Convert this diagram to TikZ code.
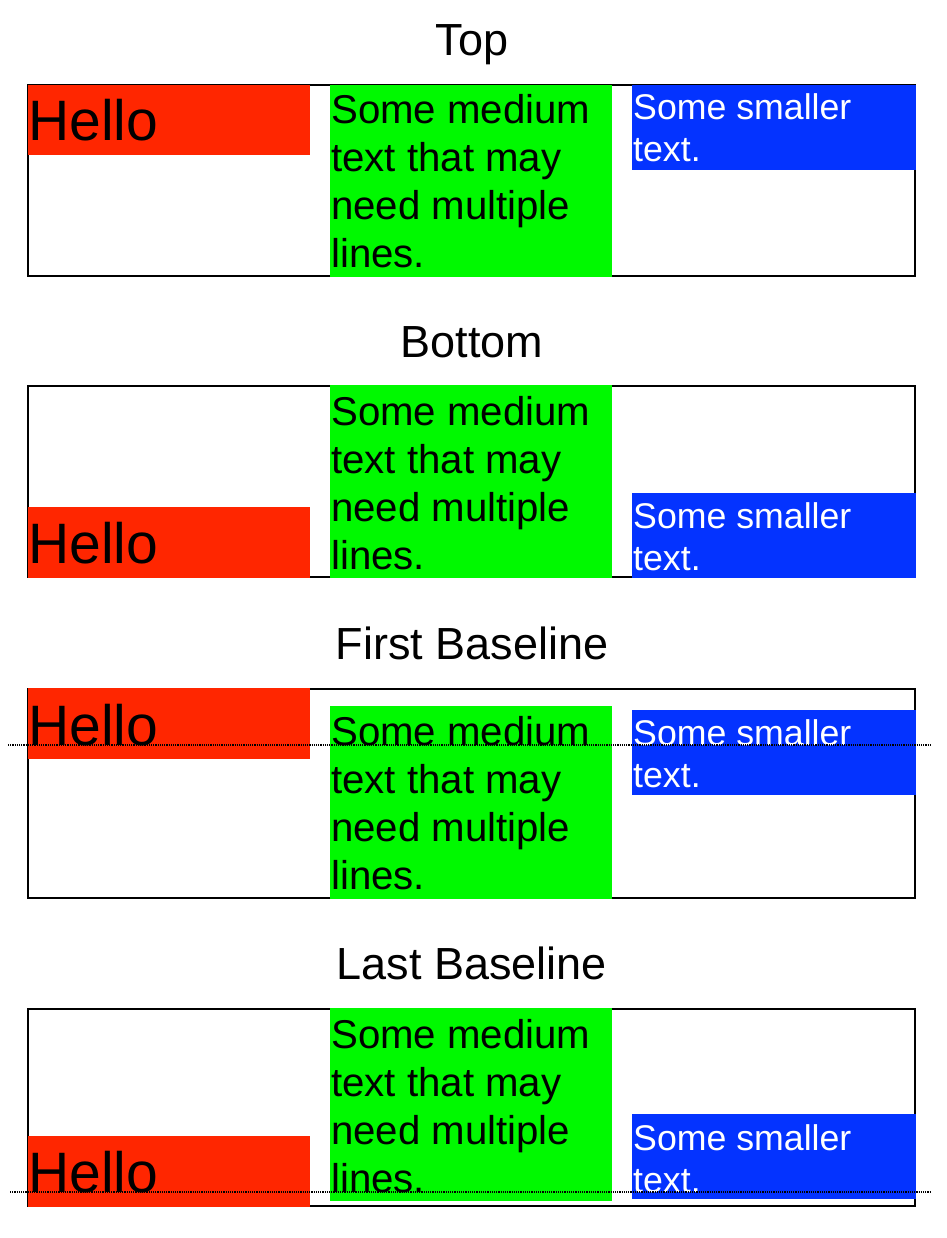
\documentclass[tikz,border=0pt]{standalone}
\usepackage{fontspec}
\setmainfont{Liberation Sans}
\definecolor{cred}{RGB}{255,38,0}
\definecolor{cgreen}{RGB}{0,249,0}
\definecolor{cblue}{RGB}{4,51,255}
\begin{document}
\begin{tikzpicture}[x=1pt,y=-1pt,
  title/.style={anchor=base,inner sep=0pt,font=\fontsize{45}{52}\selectfont},
  hello/.style={anchor=base west,inner sep=0pt,font=\fontsize{57}{67}\selectfont},
  med/.style={anchor=base west,inner sep=0pt,font=\fontsize{40.2}{48}\selectfont},
  small/.style={anchor=base west,inner sep=0pt,text=white,font=\fontsize{35.7}{42}\selectfont},
  frame/.style={draw=black,line width=1.8pt},
  baseln/.style={draw=black,line width=1.1pt,dash pattern=on 1.1pt off 1.1pt}]
\fill[white] (0,0) rectangle (946,1238);
\useasboundingbox (0,0) rectangle (946,1238);
% ---------- Top
\node[title] (t1) at (472,56) {Top};
\draw[frame] (28,85) rectangle (915,276);
\fill[cred] (28,85) rectangle (310,155);
\fill[cgreen] (330,85) rectangle (612,277);
\fill[cblue] (632,85) rectangle (916,170);
\node[hello] (h1) at (28,141) {Hello};
\node[med] (g1a) at (331,124) {Some medium};
\node[med] (g1b) at (331,172) {text that may};
\node[med] (g1c) at (331,220) {need multiple};
\node[med] (g1d) at (331,268) {lines.};
\node[small] (b1a) at (633,120) {Some smaller};
\node[small] (b1b) at (633,162) {text.};
% ---------- Bottom
\node[title] (t2) at (472,357) {Bottom};
\draw[frame] (28,386) rectangle (915,577);
\fill[cred] (28,507) rectangle (310,578);
\fill[cgreen] (330,385) rectangle (612,578);
\fill[cblue] (632,493) rectangle (916,578);
\node[hello] (h2) at (28,563) {Hello};
\node[med] (g2a) at (331,425) {Some medium};
\node[med] (g2b) at (331,473) {text that may};
\node[med] (g2c) at (331,521) {need multiple};
\node[med] (g2d) at (331,569) {lines.};
\node[small] (b2a) at (633,528) {Some smaller};
\node[small] (b2b) at (633,570) {text.};
% ---------- First Baseline
\node[title] (t3) at (472,659) {First Baseline};
\draw[frame] (28,689) rectangle (915,898);
\fill[cred] (28,688) rectangle (310,759);
\fill[cgreen] (330,706) rectangle (612,899);
\fill[cblue] (632,710) rectangle (916,795);
\node[hello] (h3) at (28,745) {Hello};
\node[med] (g3a) at (331,745) {Some medium};
\node[med] (g3b) at (331,793) {text that may};
\node[med] (g3c) at (331,841) {need multiple};
\node[med] (g3d) at (331,889) {lines.};
\node[small] (b3a) at (633,745) {Some smaller};
\node[small] (b3b) at (633,787) {text.};
\coordinate (l3a) at (8,745);
\coordinate (l3b) at (931,745);
\draw[baseln] (l3a) -- (l3b);
% ---------- Last Baseline
\node[title] (t4) at (472,979) {Last Baseline};
\draw[frame] (28,1009) rectangle (915,1206);
\fill[cred] (28,1136) rectangle (310,1207);
\fill[cgreen] (330,1008) rectangle (612,1201);
\fill[cblue] (632,1114) rectangle (916,1199);
\node[hello] (h4) at (28,1192) {Hello};
\node[med] (g4a) at (331,1048) {Some medium};
\node[med] (g4b) at (331,1096) {text that may};
\node[med] (g4c) at (331,1144) {need multiple};
\node[med] (g4d) at (331,1192) {lines.};
\node[small] (b4a) at (633,1150) {Some smaller};
\node[small] (b4b) at (633,1192) {text.};
\coordinate (l4a) at (10,1192);
\coordinate (l4b) at (931,1192);
\draw[baseln] (l4a) -- (l4b);
\end{tikzpicture}
\end{document}
